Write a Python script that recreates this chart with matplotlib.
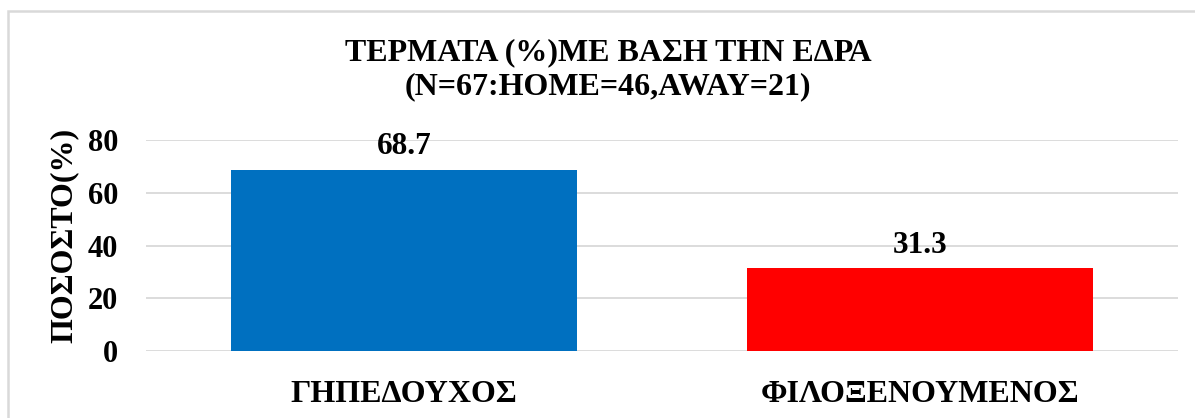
import matplotlib.pyplot as plt
from matplotlib.patches import Rectangle

categories = ["ΓΗΠΕΔΟΥΧΟΣ", "ΦΙΛΟΞΕΝΟΥΜΕΝΟΣ"]
values = [68.7, 31.3]
colors = ["#0070C0", "#FF0000"]
yticks = [0, 20, 40, 60, 80]
title = "ΤΕΡΜΑΤΑ (%)ΜΕ ΒΑΣΗ ΤΗΝ ΕΔΡΑ\n(N=67:HOME=46,AWAY=21)"
ylabel = "ΠΟΣΟΣΤΟ(%)"

plt.rcParams['font.family'] = ['Liberation Serif', 'DejaVu Serif']
plt.rcParams['font.weight'] = 'bold'

fig = plt.figure(figsize=(11.95, 4.18), dpi=100)
ax = fig.add_axes([0.1222, 0.1603, 0.8636, 0.5047])

# grey frame, only left/top edges fall inside the image
fig.patches.append(Rectangle((0.0067, -0.05), 1.1, 1.0237, transform=fig.transFigure,
                             fill=False, edgecolor="#D9D9D9", linewidth=1.8))

x = range(len(categories))
bars = ax.bar(x, values, width=0.67, color=colors, zorder=3)
for b, v in zip(bars, values):
    ax.annotate(f"{v:.1f}", (b.get_x() + b.get_width() / 2, v), xytext=(0, 6),
                textcoords="offset points", ha="center", va="bottom",
                fontsize=22.5, fontweight="bold")

ax.set_xlim(-0.5, 1.5)
ax.set_ylim(0, 80)
ax.set_yticks(yticks)
ax.set_xticks(list(x))
ax.set_xticklabels(categories, fontsize=23, fontweight="bold")
ax.tick_params(axis="y", labelsize=22, length=0, pad=20)
ax.tick_params(axis="x", length=0, pad=21)
ax.yaxis.grid(True, color="#D9D9D9", linewidth=1.3, zorder=0)
for s in ax.spines.values():
    s.set_visible(False)

fig.text(64 / 1195, 1 - 235.5 / 418, ylabel, rotation=90, ha="center", va="center",
         fontsize=23, fontweight="bold")

fig.text(0.509, 0.833, title, ha="center", va="center", fontsize=23, fontweight="bold",
         linespacing=1.2)

fig.savefig("out.png", dpi=100)
